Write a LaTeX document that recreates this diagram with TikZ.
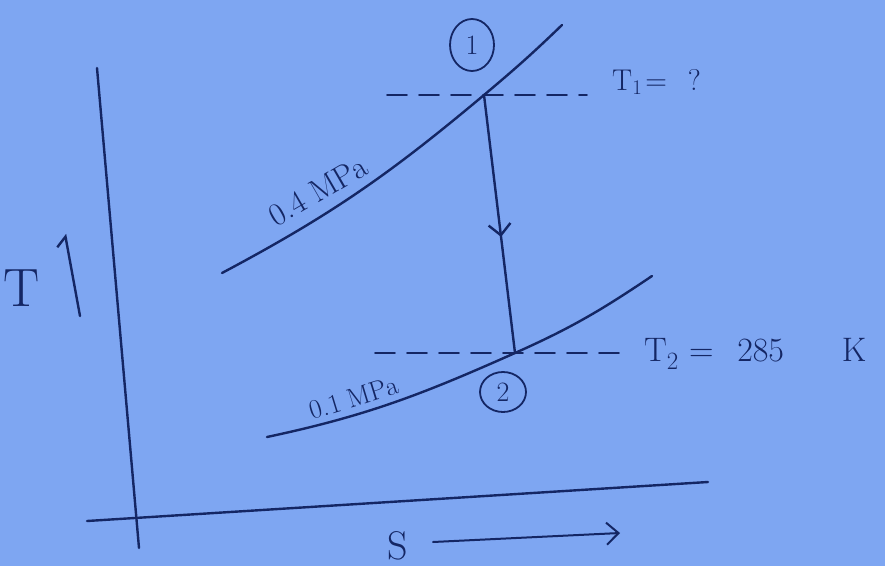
\documentclass[tikz,border=0pt]{standalone}
\usepackage{fontspec}
\usetikzlibrary{positioning,shapes.geometric,arrows.meta,decorations.markings}
\definecolor{paperBlue}{RGB}{126,166,242}
\definecolor{penInk}{RGB}{20,38,100}

\begin{document}
\begin{tikzpicture}[x=1pt, y=1pt, line width=2.4pt, line cap=round, draw=penInk, text=penInk,
  guideLine/.style={line width=1.6pt, dash pattern=on 20pt off 12pt},
  stateMark/.style={ellipse, draw, line width=1.8pt, inner sep=0pt, font=\fontsize{28}{30}\selectfont}]
\fill[paperBlue] (0,0) rectangle (885,566);
\useasboundingbox (0,0) rectangle (885,566);

% axes
\coordinate (tAxisTop) at (97,498);
\coordinate (tAxisBottom) at (139,18);
\coordinate (sAxisLeft) at (87,45);
\coordinate (sAxisRight) at (708,84);
\draw (tAxisTop) -- (tAxisBottom);
\draw (sAxisLeft) -- (sAxisRight);

\node[font=\fontsize{54}{60}\selectfont](tLabel) at (22,278){T};
\coordinate (tArrowTail) at (80,250);
\coordinate (tArrowHead) at (65,332);
\draw[-{Straight Barb[left, length=9pt, width=20pt]}] (tArrowTail) -- (tArrowHead);

\node[font=\fontsize{40}{44}\selectfont](sLabel) at (398,20){S};
\coordinate (sArrowTail) at (433,24);
\coordinate (sArrowHead) at (620,33);
\draw[line width=2pt, -{Straight Barb[length=12pt, width=22pt]}] (sArrowTail) -- (sArrowHead);

% pressure lines
\coordinate (stateOne) at (484,471);
\coordinate (stateTwo) at (515,213);
\coordinate (highPStart) at (222,293);
\coordinate (highPEnd) at (562,541);
\coordinate (lowPStart) at (267,129);
\coordinate (lowPEnd) at (652,290);
\draw (highPStart) to[out=28, in=220] (stateOne) to[out=40, in=224] (highPEnd);
\draw (lowPStart) to[out=12, in=204] (stateTwo) to[out=24, in=214] (lowPEnd);

\node[font=\fontsize{32}{36}\selectfont, rotate=30](highPLabel) at (318,375){0.4 MPa};
\node[font=\fontsize{27}{30}\selectfont, rotate=17](lowPLabel) at (354,168){0.1 MPa};

% expansion 1-2
\draw[decoration={markings, mark=at position 0.55 with {\arrow{Straight Barb[length=11pt, width=22pt]}}},
  postaction={decorate}] (stateOne) -- (stateTwo);

\node[stateMark, minimum width=44pt, minimum height=52pt](markOne) at (472,521){1};
\node[stateMark, minimum width=46pt, minimum height=40pt](markTwo) at (503,174){2};

% temperatures
\node[font=\fontsize{30}{34}\selectfont, anchor=west, inner sep=0pt](tOneLabel) at (611,484){T$_1$\hspace{0.1em}=\hspace{0.7em}?};
\node[font=\fontsize{34}{38}\selectfont, anchor=west, inner sep=0pt](tTwoLabel) at (643,212){T$_2$\hspace{0.3em}=\hspace{0.7em}285\hspace{1.7em}K};
\coordinate (dashOneStart) at (387,471);
\coordinate (dashTwoStart) at (375,213);
\draw[guideLine] (dashOneStart) -- ([xshift=-24pt]dashOneStart -| tOneLabel.west);
\draw[guideLine] (dashTwoStart) -- ([xshift=-20pt]dashTwoStart -| tTwoLabel.west);

\end{tikzpicture}
\end{document}
